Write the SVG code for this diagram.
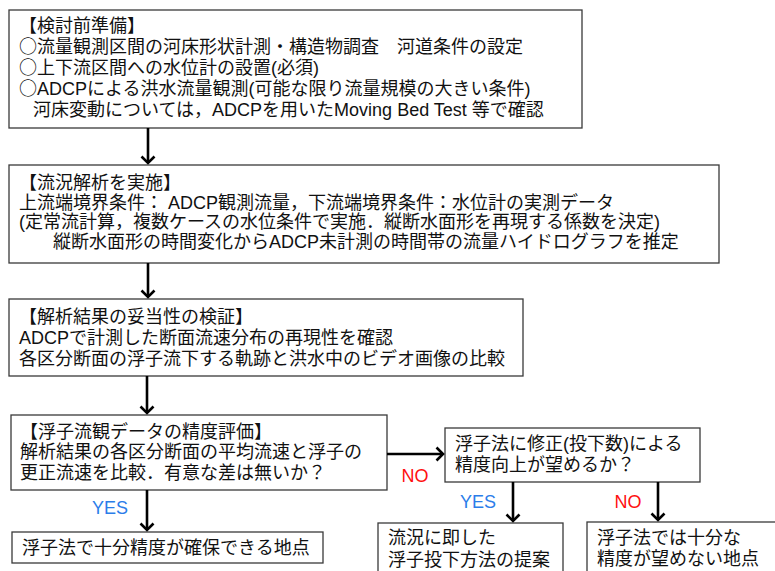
<svg xmlns="http://www.w3.org/2000/svg" width="775" height="571" viewBox="0 0 775 571">
<defs>
<style>
.box{fill:#fff;stroke:#3a3a3a;stroke-width:1.3}
.t{font-family:"Liberation Sans","Noto Sans CJK JP",sans-serif;font-size:18px;fill:#111}
.j{font-family:"Noto Sans CJK JP",sans-serif}
.lbl{font-family:"Liberation Sans",Arial,sans-serif;font-size:18px}
.yes{fill:#2b7de9}
.no{fill:#ff1010}
.arr{stroke:#000;stroke-width:2.6;fill:none;marker-end:url(#ah)}
</style>
<marker id="ah" viewBox="-9 -9 11 18" refX="0" refY="0" markerWidth="11" markerHeight="18" markerUnits="userSpaceOnUse" orient="auto">
<path d="M-6.5,-6.5 L0,0 L-6.5,6.5" fill="none" stroke="#000" stroke-width="2.6"/>
</marker>
</defs>
<rect width="775" height="571" fill="#fff"/>

<g id="prep">
<rect class="box" x="9" y="10" width="573" height="118"/>
<text class="t" x="19" y="32">【検討前準備】</text>
<text class="t" x="19" y="53"><tspan class="j">○</tspan>流量観測区間の河床形状計測・構造物調査　河道条件の設定</text>
<text class="t" x="19" y="74"><tspan class="j">○</tspan>上下流区間への水位計の設置(必須)</text>
<text class="t" x="19" y="95"><tspan class="j">○</tspan>ADCPによる洪水流量観測(可能な限り流量規模の大きい条件)</text>
<text class="t" x="33" y="116">河床変動については，ADCPを用いたMoving Bed Test 等で確認</text>
</g>

<g id="analysis">
<rect class="box" x="9" y="165" width="710" height="98"/>
<text class="t" x="19" y="189">【流況解析を実施】</text>
<text class="t" x="19" y="208.5">上流端境界条件： ADCP観測流量，下流端境界条件：水位計の実測データ</text>
<text class="t" x="19" y="228">(定常流計算，複数ケースの水位条件で実施．縦断水面形を再現する係数を決定)</text>
<text class="t" x="53" y="247.5">縦断水面形の時間変化からADCP未計測の時間帯の流量ハイドログラフを推定</text>
</g>

<g id="verify">
<rect class="box" x="9" y="299" width="514" height="77"/>
<text class="t" x="19" y="323">【解析結果の妥当性の検証】</text>
<text class="t" x="19" y="344">ADCPで計測した断面流速分布の再現性を確認</text>
<text class="t" x="19" y="365">各区分断面の浮子流下する軌跡と洪水中のビデオ画像の比較</text>
</g>

<g id="evaluate">
<rect class="box" x="11" y="415" width="376" height="75"/>
<text class="t" x="20" y="437.5">【浮子流観データの精度評価】</text>
<text class="t" x="20" y="458">解析結果の各区分断面の平均流速と浮子の</text>
<text class="t" x="20" y="478.5">更正流速を比較．有意な差は無いか？</text>
</g>

<g id="improve">
<rect class="box" x="445" y="428" width="255" height="54"/>
<text class="t" x="455" y="449.5">浮子法に修正(投下数)による</text>
<text class="t" x="455" y="470.5">精度向上が望めるか？</text>
</g>

<g id="ok">
<rect class="box" x="12" y="532" width="311" height="31"/>
<text class="t" x="22" y="554">浮子法で十分精度が確保できる地点</text>
</g>

<g id="proposal">
<rect class="box" x="378" y="523" width="185" height="60"/>
<text class="t" x="388" y="543.5">流況に即した</text>
<text class="t" x="388" y="565.5">浮子投下方法の提案</text>
</g>

<g id="ng">
<rect class="box" x="587" y="522" width="200" height="60"/>
<text class="t" x="597" y="543.5">浮子法では十分な</text>
<text class="t" x="597" y="565">精度が望めない地点</text>
</g>

<g id="connectors">
<line class="arr" x1="148" y1="128" x2="148" y2="163"/>
<line class="arr" x1="148" y1="263" x2="148" y2="297"/>
<line class="arr" x1="147" y1="376" x2="147" y2="413"/>
<line class="arr" x1="147" y1="490" x2="147" y2="530"/>
<line class="arr" x1="387" y1="454" x2="443" y2="454"/>
<line class="arr" x1="513" y1="482" x2="513" y2="521"/>
<line class="arr" x1="658" y1="482" x2="658" y2="520"/>
<text class="lbl yes" x="110" y="514" text-anchor="middle">YES</text>
<text class="lbl no" x="415" y="482" text-anchor="middle">NO</text>
<text class="lbl yes" x="478" y="508" text-anchor="middle">YES</text>
<text class="lbl no" x="628" y="508" text-anchor="middle">NO</text>
</g>
</svg>
